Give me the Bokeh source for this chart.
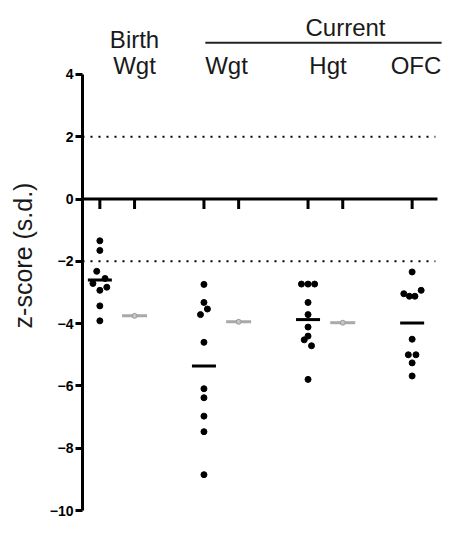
from bokeh.plotting import figure
from bokeh.models import Range1d, LinearAxis, FixedTicker, ColumnDataSource
from bokeh.core.properties import value
from bokeh.embed import file_html
from bokeh.resources import INLINE

# ---------------- data (z-scores) ----------------
birth_wgt = [-1.34, -1.65, -2.32, -2.55, -2.71, -2.83, -2.93, -3.43, -3.91]
birth_wgt_jit = [0, 0, -0.09, 0.15, -0.2, 0.2, 0, 0, 0]
cur_wgt = [-2.74, -3.32, -3.53, -3.71, -4.60, -6.09, -6.38, -6.97, -7.47, -8.85]
cur_wgt_jit = [0, 0, 0.1, -0.1, 0, 0, 0, 0, 0, 0]
cur_hgt = [-2.73, -2.73, -2.73, -3.32, -3.71, -4.11, -4.40, -4.52, -4.71, -5.79]
cur_hgt_jit = [-0.19, 0, 0.19, 0, 0, 0, 0, -0.11, 0.1, 0]
cur_ofc = [-2.34, -2.93, -3.04, -3.12, -3.12, -4.50, -5.00, -5.00, -5.26, -5.68]
cur_ofc_jit = [0, 0.26, -0.24, -0.08, 0.08, 0, -0.11, 0.11, 0, 0]

group_pos = [0, 3, 6, 9]
group_medians = [-2.60, -5.36, -3.87, -3.98]
ref_pos = [1, 4, 7]
ref_values = [-3.75, -3.94, -3.97]
cutoffs = [2, -2]

y_ticks = [4, 2, 0, -2, -4, -6, -8, -10]
x_ticks = [0, 1, 3, 4, 6, 7, 9]

header_labels = ["Birth", "Wgt", "Wgt", "Hgt", "OFC", "Current"]
header_x = [1.0, 1.0, 3.65, 6.575, 9.11, 7.08]
header_y = [5.124, 4.289, 4.289, 4.289, 4.289, 5.493]
current_line_y = 5.018
current_line_x = (3.04, 9.85)

FONT = "Liberation Sans"
X_START, X_AXIS_END, DOT_END = -0.5, 9.73, 9.67
TICK_LEN = 0.32

p = figure(width=442, height=517, output_backend="svg", toolbar_location=None,
           x_range=Range1d(X_START, 9.875), y_range=Range1d(-10, 6.376),
           x_axis_location=None, y_axis_location=None,
           min_border_top=0, min_border_right=0, min_border_bottom=7,
           min_border_left=82)
p.outline_line_color = None
p.xgrid.visible = False
p.ygrid.visible = False

# main y axis
yax = LinearAxis(bounds=(-10, 4), ticker=FixedTicker(ticks=y_ticks),
                 axis_line_width=3, axis_line_color="black",
                 major_tick_out=7, major_tick_in=0, major_tick_line_width=3,
                 minor_tick_out=0, minor_tick_in=0,
                 major_label_standoff=2,
                 major_label_text_font=FONT, major_label_text_font_style="bold",
                 major_label_text_font_size="14px", major_label_text_color="black")
p.add_layout(yax, "left")

# outer axis only carrying the title
ylab = LinearAxis(bounds=(-7.88, 4), ticker=FixedTicker(ticks=[]),
                  axis_line_color=None, major_tick_out=0, major_tick_in=0,
                  minor_tick_out=0, minor_tick_in=0, major_label_standoff=0,
                  axis_label="z-score (s.d.)", axis_label_standoff=10,
                  axis_label_text_font=FONT, axis_label_text_font_style="normal",
                  axis_label_text_font_size="25px", axis_label_text_color="#1a1a1a")
p.add_layout(ylab, "left")

# zero axis line with downward ticks
p.segment(x0=[X_START], x1=[X_AXIS_END], y0=[0], y1=[0], line_color="black", line_width=3)
p.segment(x0=x_ticks, x1=x_ticks, y0=[0] * len(x_ticks), y1=[-TICK_LEN] * len(x_ticks),
          line_color="black", line_width=3)

# dotted cut-off lines
p.segment(x0=[X_START] * len(cutoffs), x1=[DOT_END] * len(cutoffs), y0=cutoffs, y1=cutoffs,
          line_color="black", line_width=2, line_dash="2 6")

# data points
for center, vals, jit in zip(group_pos, [birth_wgt, cur_wgt, cur_hgt, cur_ofc],
                             [birth_wgt_jit, cur_wgt_jit, cur_hgt_jit, cur_ofc_jit]):
    src = ColumnDataSource(dict(x=[center + j for j in jit], y=vals))
    p.scatter("x", "y", source=src, size=6, fill_color="black", line_color="black")

# medians
p.scatter(x=group_pos, y=group_medians, marker="dash", size=24,
          line_color="black", line_width=3)

# reference (gray) markers
p.scatter(x=ref_pos, y=ref_values, marker="dash", size=25,
          line_color="#a9a9a9", line_width=3)
p.scatter(x=ref_pos, y=ref_values, marker="circle", size=5,
          fill_color="#c4c4c4", line_color="#9a9a9a", line_width=1)

# header texts
p.text(x=header_x, y=header_y, text=header_labels, text_align="center",
       text_baseline="middle", text_font=value(FONT), text_font_size="24px",
       text_color="#1a1a1a")
p.segment(x0=[current_line_x[0]], x1=[current_line_x[1]], y0=[current_line_y], y1=[current_line_y],
          line_color="#222222", line_width=2)

open("out.html", "w").write(file_html(p, INLINE))
